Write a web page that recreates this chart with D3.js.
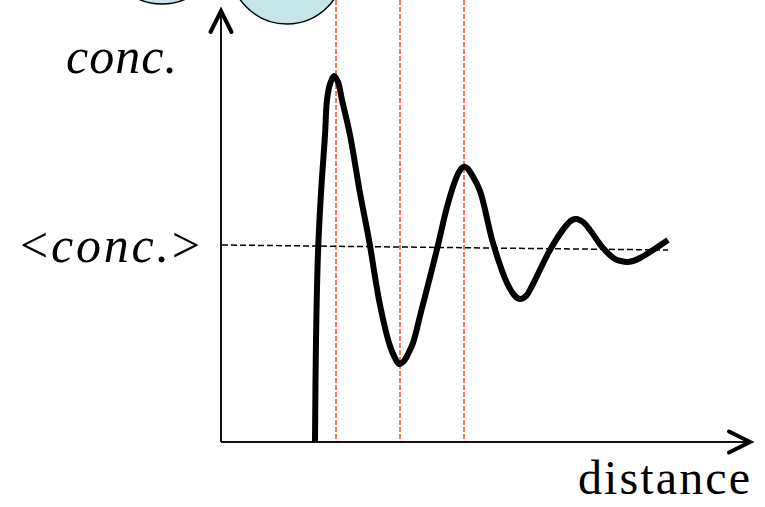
<!DOCTYPE html>
<html>
<head>
<meta charset="utf-8">
<script src="https://cdn.jsdelivr.net/npm/d3@7"></script>
<style>
  body { margin: 0; background: #fff; }
  svg { display: block; }
</style>
</head>
<body>
<div id="chart"></div>
<script>
// distance / concentration readings along the curve (axis units)
let distance = [94, 95, 97, 100, 104, 106, 109, 113, 117, 121, 129, 139, 148, 159, 169, 174, 178, 183, 188, 192,
    200, 209, 217, 226, 234, 238, 242, 246, 251, 259, 272, 286, 294, 299, 305, 311, 329, 344, 351, 356, 362,
    369, 382, 394, 400, 406, 412, 419, 429, 447];
let conc = [0, 102, 189, 249, 307, 342, 358, 366, 360, 342, 307, 249, 202, 137, 96, 84, 78, 81, 90, 99,
    130, 165, 197, 235, 261, 270, 275, 274, 267, 251, 199, 159, 146, 143, 146, 156, 192, 215, 222, 223, 220,
    212, 194, 183, 181, 180, 181, 184, 190, 202];

// average concentration line (start / end)
let meanDist = [1, 447];
let meanConc = [197, 192];

// marked positions (red guides)
let markDist = [115, 179, 243];

// particles at the top
let particleDist = [-59, 66];
let particleConc = [495, 475];

let w = 765;
let h = 507;

let x = d3.scaleLinear().domain([0, 529]).range([221, 750]);
let y = d3.scaleLinear().domain([0, 431]).range([442, 11]);

let svg = d3.select("#chart")
    .append("svg")
    .attr("width", w)
    .attr("height", h);

// particles
svg.selectAll("circle.particle")
    .data(particleDist)
    .join("circle")
    .attr("class", "particle")
    .attr("cx", d => x(d))
    .attr("cy", (d, i) => y(particleConc[i]))
    .attr("r", 57)
    .attr("fill", "#c5e5e9")
    .attr("stroke", "#000")
    .attr("stroke-width", 1.5);

// red guides
svg.selectAll("line.mark")
    .data(markDist)
    .join("line")
    .attr("class", "mark")
    .attr("x1", d => x(d))
    .attr("x2", d => x(d))
    .attr("y1", 0)
    .attr("y2", y(0))
    .attr("stroke", "#ff3b1a")
    .attr("stroke-width", 1.4)
    .attr("stroke-dasharray", "5,2");

// axes
svg.append("line")
    .attr("x1", x(0)).attr("y1", y(0))
    .attr("x2", x(0)).attr("y2", y(431))
    .attr("stroke", "#111").attr("stroke-width", 2);
svg.append("line")
    .attr("x1", x(0)).attr("y1", y(0))
    .attr("x2", x(529)).attr("y2", y(0))
    .attr("stroke", "#111").attr("stroke-width", 2);

// arrow heads
svg.append("path")
    .attr("d", `M${x(0) - 10.5},${y(431) + 21}L${x(0)},${y(431)}L${x(0) + 10.5},${y(431) + 21}`)
    .attr("fill", "none").attr("stroke", "#000").attr("stroke-width", 4)
    .attr("stroke-linejoin", "miter").attr("stroke-linecap", "round");
svg.append("path")
    .attr("d", `M${x(529) - 21},${y(0) - 10.5}L${x(529)},${y(0)}L${x(529) - 21},${y(0) + 10.5}`)
    .attr("fill", "none").attr("stroke", "#000").attr("stroke-width", 4)
    .attr("stroke-linejoin", "miter").attr("stroke-linecap", "round");

// mean line
svg.append("line")
    .attr("x1", x(meanDist[0])).attr("y1", y(meanConc[0]))
    .attr("x2", x(meanDist[1])).attr("y2", y(meanConc[1]))
    .attr("stroke", "#000").attr("stroke-width", 1.5)
    .attr("stroke-dasharray", "6,3");

// concentration curve
let line = d3.line()
    .x((d, i) => x(distance[i]))
    .y((d, i) => y(conc[i]))
    .curve(d3.curveCatmullRom.alpha(0.5));

svg.append("path")
    .datum(distance)
    .attr("d", line)
    .attr("fill", "none")
    .attr("stroke", "#000")
    .attr("stroke-width", 6)
    .attr("stroke-linejoin", "round");

// labels
let font = "'Liberation Serif', 'Times New Roman', serif";

svg.append("text")
    .attr("x", 66).attr("y", 73)
    .attr("font-family", font).attr("font-size", 50)
    .attr("font-style", "italic")
    .attr("textLength", 111).attr("lengthAdjust", "spacing")
    .text("conc.");

let mean = svg.append("text")
    .attr("x", 20).attr("y", 262)
    .attr("font-family", font).attr("font-size", 50)
    .attr("textLength", 180).attr("lengthAdjust", "spacing");
mean.append("tspan").text("<");
mean.append("tspan").attr("font-style", "italic").text("conc.");
mean.append("tspan").text(">");

svg.append("text")
    .attr("x", 578).attr("y", 494)
    .attr("font-family", font).attr("font-size", 48)
    .attr("textLength", 172).attr("lengthAdjust", "spacing")
    .text("distance");
</script>
</body>
</html>
